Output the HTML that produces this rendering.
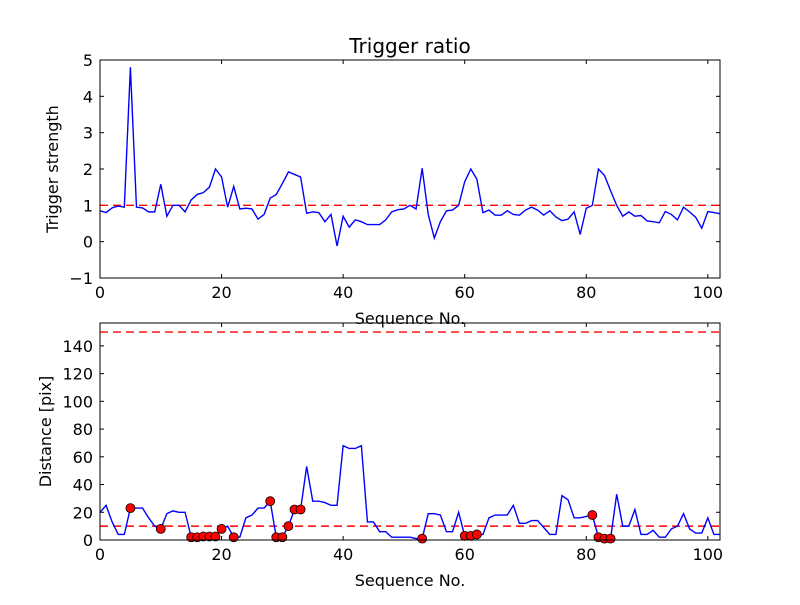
<!DOCTYPE html>
<html><head><meta charset="utf-8"><style>
body{margin:0;background:#fff;}
svg text{font-family:"DejaVu Sans","Liberation Sans",sans-serif;}
</style></head><body>
<svg id="c" width="800" height="600" xmlns="http://www.w3.org/2000/svg">
<rect width="800" height="600" fill="#fff"/>
</svg>
<script>
const xTicks=[0,20,40,60,80,100];
const topTicks=[-1,0,1,2,3,4,5];
const botTicks=[0,20,40,60,80,100,120,140];
const ratio=[0.85,0.8,0.93,0.98,0.95,4.8,0.95,0.93,0.82,0.82,1.58,0.7,1.0,1.0,0.82,1.15,1.3,1.35,1.5,2.0,1.78,0.95,1.52,0.9,0.92,0.9,0.62,0.75,1.2,1.3,1.6,1.92,1.85,1.78,0.78,0.82,0.8,0.55,0.75,-0.12,0.7,0.4,0.6,0.55,0.47,0.47,0.47,0.6,0.82,0.88,0.9,1.0,0.9,2.02,0.75,0.1,0.55,0.85,0.87,1.0,1.65,2.0,1.72,0.8,0.87,0.73,0.73,0.85,0.75,0.73,0.87,0.95,0.87,0.73,0.85,0.68,0.58,0.62,0.82,0.2,0.92,1.0,2.0,1.82,1.4,1.0,0.7,0.82,0.7,0.72,0.57,0.55,0.52,0.83,0.75,0.6,0.95,0.82,0.67,0.37,0.83,0.8,0.77];
const dist=[20,25,13,4,4,23,23,23,16,10,8,19,21,20,20,2,2,2.5,2.5,2.5,8,10,2,2,16,18,23,23,28,2,2,10,22,22,53,28,28,27,25,25,68,66,66,68,13,13,6,6,2,2,2,2,1,1,19,19,18,6,6,20,3,3,4,4,16,18,18,18,25,12,12,14,14,9,4,4,32,29,16,16,17,18,2,1,1,33,10,10,22,4,4,7,2,2,8,10,19,8,5,5,16,4,4];
const markerIdx=[5,10,15,16,17,18,19,20,22,28,29,30,31,32,33,53,60,61,62,81,82,83,84];
const ratioThresh=1;
const distThresh=[10,150];

const svg=document.getElementById('c');
const NS='http://www.w3.org/2000/svg';
function mk(tag,attrs,parent){const e=document.createElementNS(NS,tag);for(const k in attrs)e.setAttribute(k,attrs[k]);(parent||svg).appendChild(e);return e;}
const X0=100,X1=720,xmax=102;
const sx=v=>X0+v/xmax*(X1-X0);

function axes(name,top,bot,ymin,ymax,yt,title,ylabel){
  const sy=v=>bot-(v-ymin)/(ymax-ymin)*(bot-top);
  const g=mk('g',{});
  
  
  xTicks.forEach(t=>{
    const x=sx(t);
    mk('line',{x1:x,x2:x,y1:bot,y2:bot-4,stroke:'#000'},g);
    mk('line',{x1:x,x2:x,y1:top,y2:top+4,stroke:'#000'},g);
    const tx=mk('text',{x:x,y:bot+20,'font-size':16,'text-anchor':'middle'},g);tx.textContent=t;
    
    
  });
  yt.forEach(t=>{
    const y=sy(t);
    mk('line',{x1:X0,x2:X0+4,y1:y,y2:y,stroke:'#000'},g);
    mk('line',{x1:X1,x2:X1-4,y1:y,y2:y,stroke:'#000'},g);
    const tx=mk('text',{x:X0-7,y:y+6,'font-size':16,'text-anchor':'end'},g);tx.textContent=(t<0?'\u2212'+(-t):t);
    
    
  });
  const xl=mk('text',{x:(X0+X1)/2,y:bot+46,'font-size':16,'text-anchor':'middle'},g);xl.textContent='Sequence No.';
  
  
  const yl=mk('text',{x:0,y:0,'font-size':16,'text-anchor':'middle',transform:`translate(${ylabel[1]},${(top+bot)/2}) rotate(-90)`},g);yl.textContent=ylabel[0];
  
  
  if(title){const tt=mk('text',{x:(X0+X1)/2,y:top-7,'font-size':20,'text-anchor':'middle'},g);tt.textContent=title;
    
    }
  return {sy,g,top,bot};
}
const A=axes('top-axes',60,278,-1,5,topTicks,'Trigger ratio',['Trigger strength',58]);
const B=axes('bottom-axes',323,540,0,156.5,botTicks,null,['Distance [pix]',51]);

const defs=mk('defs',{});
const cp=mk('clipPath',{id:'cpA'},defs);mk('rect',{x:X0,y:A.top,width:X1-X0,height:A.bot-A.top},cp);
const cp2=mk('clipPath',{id:'cpB'},defs);mk('rect',{x:X0,y:B.top-6,width:X1-X0+6,height:B.bot-B.top+12},cp2);

let l=mk('line',{x1:X0,x2:X1,y1:A.sy(ratioThresh),y2:A.sy(ratioThresh),stroke:'#f00','stroke-dasharray':'8,5','stroke-width':1.4});


let p=mk('polyline',{points:ratio.map((v,i)=>sx(i)+','+A.sy(v)).join(' '),fill:'none',stroke:'#00f','stroke-width':1.4,'clip-path':'url(#cpA)'});



distThresh.forEach(v=>{
  const d=mk('line',{x1:X0,x2:X1,y1:B.sy(v),y2:B.sy(v),stroke:'#f00','stroke-dasharray':'8,5','stroke-width':1.4});
  
  
});
p=mk('polyline',{points:dist.map((v,i)=>sx(i)+','+B.sy(v)).join(' '),fill:'none',stroke:'#00f','stroke-width':1.4,'clip-path':'url(#cpB)'});


markerIdx.forEach(i=>{
  const c=mk('circle',{cx:sx(i),cy:B.sy(dist[i]),r:4.5,fill:'#f00',stroke:'#000','stroke-width':0.8,'clip-path':'url(#cpB)'});
  
  
});
[A,B].forEach(ax=>{
  const r=mk('rect',{x:X0,y:ax.top,width:X1-X0,height:ax.bot-ax.top,fill:'none',stroke:'#000','stroke-width':1});
  
  
});
</script>
</body></html>
